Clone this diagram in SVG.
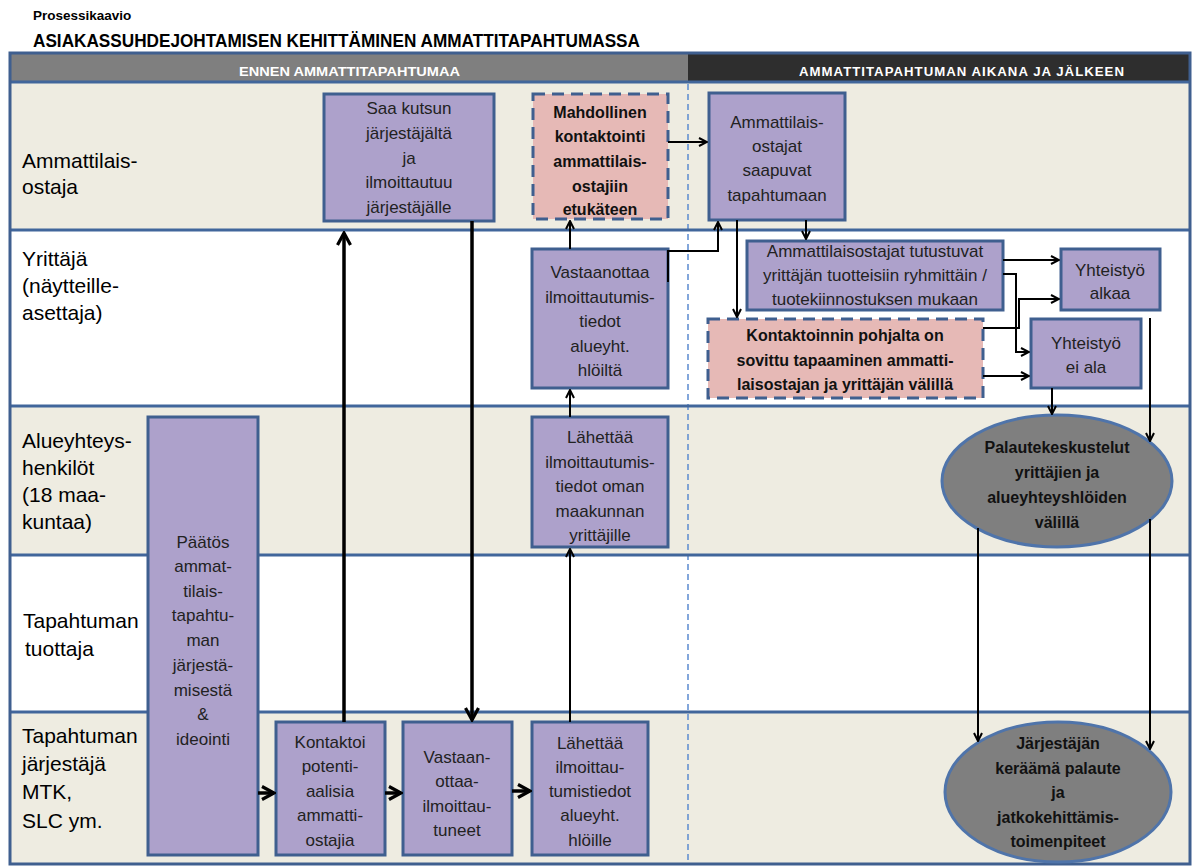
<svg xmlns="http://www.w3.org/2000/svg" width="1198" height="867" viewBox="0 0 1198 867">
<defs>
<style>
.ttl{font-family:"Liberation Sans",Arial,sans-serif;font-weight:bold;fill:#000}
.hdr{font-family:"Liberation Sans",Arial,sans-serif;font-weight:bold;font-size:13px;fill:#fff}
.ll{font-family:"Liberation Sans",Arial,sans-serif;font-size:21px;fill:#000}
.nt{font-family:"Liberation Sans",Arial,sans-serif;font-size:17px;fill:#222;text-anchor:middle}
.bt{font-family:"Liberation Sans",Arial,sans-serif;font-size:16px;font-weight:bold;fill:#111;text-anchor:middle}
.box{fill:#ADA1CB;stroke:#3F5F8F;stroke-width:3}
.pink{fill:#E6B9B6;stroke:#3F5F8F;stroke-width:3;stroke-dasharray:12 7}
.ell{fill:#7F7F7F;stroke:#4F74AA;stroke-width:3}
.lane{stroke:#41669B;stroke-width:3}
.c{fill:none;stroke:#000;stroke-width:2}
.ck{fill:none;stroke:#000;stroke-width:3.5}
</style>
<marker id="a" viewBox="0 0 10 10" markerWidth="10" markerHeight="10" refX="9" refY="5" orient="auto" markerUnits="userSpaceOnUse">
<path d="M1,1 L9,5 L1,9" fill="none" stroke="#000" stroke-width="2"/>
</marker>
<marker id="A" viewBox="0 0 16 16" markerWidth="16" markerHeight="16" refX="14" refY="8" orient="auto" markerUnits="userSpaceOnUse">
<path d="M2,1.5 L14,8 L2,14.5" fill="none" stroke="#000" stroke-width="3.2"/>
</marker>
</defs>
<rect width="1198" height="867" fill="#fff"/>
<g id="title">
<text class="ttl" x="33" y="20" font-size="13.5">Prosessikaavio</text>
<text class="ttl" x="33" y="47" font-size="18" textLength="607" lengthAdjust="spacingAndGlyphs">ASIAKASSUHDEJOHTAMISEN KEHITTÄMINEN AMMATTITAPAHTUMASSA</text>
</g>
<g id="lanes">
<rect x="10" y="82" width="1180" height="148" fill="#EEECE1"/>
<rect x="10" y="230" width="1180" height="176" fill="#fff"/>
<rect x="10" y="406" width="1180" height="149" fill="#EEECE1"/>
<rect x="10" y="555" width="1180" height="157" fill="#fff"/>
<rect x="10" y="712" width="1180" height="152" fill="#EEECE1"/>
<rect x="10" y="53" width="678" height="29" fill="#7F7F7F"/>
<rect x="688" y="53" width="502" height="29" fill="#2E2E2E"/>
<line x1="688" y1="84" x2="688" y2="864" stroke="#5B8BD0" stroke-width="1.5" stroke-dasharray="6 4"/>
<line class="lane" x1="10" y1="82" x2="1190" y2="82"/>
<line class="lane" x1="10" y1="230" x2="1190" y2="230"/>
<line class="lane" x1="10" y1="406" x2="1190" y2="406"/>
<line class="lane" x1="10" y1="555" x2="1190" y2="555"/>
<line class="lane" x1="10" y1="712" x2="1190" y2="712"/>
<rect x="10" y="53" width="1180" height="811" fill="none" stroke="#3F5F8F" stroke-width="3"/>
<text class="hdr" x="239" y="76" textLength="221" lengthAdjust="spacingAndGlyphs">ENNEN AMMATTITAPAHTUMAA</text>
<text class="hdr" x="799" y="76" textLength="326" lengthAdjust="spacingAndGlyphs" letter-spacing="1">AMMATTITAPAHTUMAN AIKANA JA JÄLKEEN</text>
<text class="ll" x="22" y="168">Ammattilais-</text>
<text class="ll" x="22" y="194">ostaja</text>
<text class="ll" x="22" y="266">Yrittäjä</text>
<text class="ll" x="22" y="293">(näytteille-</text>
<text class="ll" x="22" y="320">asettaja)</text>
<text class="ll" x="22" y="448">Alueyhteys-</text>
<text class="ll" x="22" y="475">henkilöt</text>
<text class="ll" x="22" y="502">(18 maa-</text>
<text class="ll" x="22" y="529">kuntaa)</text>
<text class="ll" x="23" y="628">Tapahtuman</text>
<text class="ll" x="25" y="656">tuottaja</text>
<text class="ll" x="22" y="743">Tapahtuman</text>
<text class="ll" x="22" y="771">järjestäjä</text>
<text class="ll" x="22" y="799">MTK,</text>
<text class="ll" x="22" y="828">SLC ym.</text>
</g>
<g id="n-saa">
<rect class="box" x="324" y="94" width="170" height="127"/>
<text class="nt" x="409" y="114">Saa kutsun</text>
<text class="nt" x="409" y="139">järjestäjältä</text>
<text class="nt" x="409" y="164">ja</text>
<text class="nt" x="409" y="188">ilmoittautuu</text>
<text class="nt" x="409" y="213">järjestäjälle</text>
</g>
<g id="n-mahd">
<rect class="pink" x="533" y="94" width="135" height="125"/>
<text class="bt" x="600" y="118">Mahdollinen</text>
<text class="bt" x="600" y="142">kontaktointi</text>
<text class="bt" x="600" y="167">ammattilais-</text>
<text class="bt" x="600" y="192">ostajiin</text>
<text class="bt" x="600" y="215">etukäteen</text>
</g>
<g id="n-saapuvat">
<rect class="box" x="709" y="93" width="136" height="127"/>
<text class="nt" x="777" y="128">Ammattilais-</text>
<text class="nt" x="777" y="152">ostajat</text>
<text class="nt" x="777" y="176">saapuvat</text>
<text class="nt" x="777" y="201">tapahtumaan</text>
</g>
<g id="n-vastaanottaa">
<rect class="box" x="532" y="249" width="136" height="139"/>
<text class="nt" x="600" y="278">Vastaanottaa</text>
<text class="nt" x="600" y="303">ilmoittautumis-</text>
<text class="nt" x="600" y="327">tiedot</text>
<text class="nt" x="600" y="352">alueyht.</text>
<text class="nt" x="600" y="376">hlöiltä</text>
</g>
<g id="n-tutustuvat">
<rect class="box" x="747" y="241" width="256" height="69"/>
<text class="nt" x="875" y="257">Ammattilaisostajat tutustuvat</text>
<text class="nt" x="875" y="281">yrittäjän tuotteisiin ryhmittäin /</text>
<text class="nt" x="875" y="305">tuotekiinnostuksen mukaan</text>
</g>
<g id="n-kontaktoinnin">
<rect class="pink" x="708" y="319" width="275" height="79"/>
<text class="bt" x="845" y="341">Kontaktoinnin pohjalta on</text>
<text class="bt" x="845" y="366">sovittu tapaaminen ammatti-</text>
<text class="bt" x="845" y="390">laisostajan ja yrittäjän välillä</text>
</g>
<g id="n-alkaa">
<rect class="box" x="1061" y="249" width="99" height="61"/>
<text class="nt" x="1110" y="276">Yhteistyö</text>
<text class="nt" x="1110" y="299">alkaa</text>
</g>
<g id="n-eiala">
<rect class="box" x="1031" y="319" width="110" height="69"/>
<text class="nt" x="1086" y="349">Yhteistyö</text>
<text class="nt" x="1086" y="373">ei ala</text>
</g>
<g id="n-lahettaa1">
<rect class="box" x="532" y="417" width="136" height="130"/>
<text class="nt" x="600" y="443">Lähettää</text>
<text class="nt" x="600" y="468">ilmoittautumis-</text>
<text class="nt" x="600" y="492">tiedot oman</text>
<text class="nt" x="600" y="517">maakunnan</text>
<text class="nt" x="600" y="541">yrittäjille</text>
</g>
<g id="n-paatos">
<rect class="box" x="148" y="417" width="110" height="438"/>
<text class="nt" x="203" y="548">Päätös</text>
<text class="nt" x="203" y="572">ammat-</text>
<text class="nt" x="203" y="597">tilais-</text>
<text class="nt" x="203" y="621">tapahtu-</text>
<text class="nt" x="203" y="646">man</text>
<text class="nt" x="203" y="671">järjestä-</text>
<text class="nt" x="203" y="696">misestä</text>
<text class="nt" x="203" y="720">&amp;</text>
<text class="nt" x="203" y="745">ideointi</text>
</g>
<g id="n-kontaktoi">
<rect class="box" x="276" y="722" width="109" height="133"/>
<text class="nt" x="330" y="748">Kontaktoi</text>
<text class="nt" x="330" y="772">potenti-</text>
<text class="nt" x="330" y="797">aalisia</text>
<text class="nt" x="330" y="821">ammatti-</text>
<text class="nt" x="330" y="846">ostajia</text>
</g>
<g id="n-vastaan">
<rect class="box" x="403" y="722" width="109" height="133"/>
<text class="nt" x="457" y="763">Vastaan-</text>
<text class="nt" x="457" y="787">ottaa-</text>
<text class="nt" x="457" y="812">ilmoittau-</text>
<text class="nt" x="457" y="836">tuneet</text>
</g>
<g id="n-lahettaa2">
<rect class="box" x="532" y="722" width="116" height="133"/>
<text class="nt" x="590" y="749">Lähettää</text>
<text class="nt" x="590" y="773">ilmoittau-</text>
<text class="nt" x="590" y="797">tumistiedot</text>
<text class="nt" x="590" y="821">alueyht.</text>
<text class="nt" x="590" y="846">hlöille</text>
</g>
<g id="n-palaute1">
<ellipse class="ell" cx="1057" cy="481" rx="115" ry="66"/>
<text class="bt" x="1057" y="453">Palautekeskustelut</text>
<text class="bt" x="1057" y="478">yrittäjien ja</text>
<text class="bt" x="1057" y="503">alueyhteyshlöiden</text>
<text class="bt" x="1057" y="528">välillä</text>
</g>
<g id="n-palaute2">
<ellipse class="ell" cx="1058" cy="792" rx="113" ry="70"/>
<text class="bt" x="1058" y="749">Järjestäjän</text>
<text class="bt" x="1058" y="774">keräämä palaute</text>
<text class="bt" x="1058" y="798">ja</text>
<text class="bt" x="1058" y="823">jatkokehittämis-</text>
<text class="bt" x="1058" y="847">toimenpiteet</text>
</g>
<g id="connectors">
<path class="ck" d="M258,793 H274" marker-end="url(#A)"/>
<path class="ck" d="M385,793 H401" marker-end="url(#A)"/>
<path class="ck" d="M512,791 H530" marker-end="url(#A)"/>
<path class="ck" d="M344,722 V233" marker-end="url(#A)"/>
<path class="ck" d="M472,221 V720" marker-end="url(#A)"/>
<path class="c" d="M570,722 V549" marker-end="url(#a)"/>
<path class="c" d="M570,417 V390" marker-end="url(#a)"/>
<path class="c" d="M570,249 V221" marker-end="url(#a)"/>
<path class="c" d="M668,142 H707" marker-end="url(#a)"/>
<path class="c" d="M668,282 V251 H718 V222" marker-end="url(#a)"/>
<path class="c" d="M737,220 V317" marker-end="url(#a)"/>
<path class="c" d="M806,220 V239" marker-end="url(#a)"/>
<path class="c" d="M1003,260 H1059" marker-end="url(#a)"/>
<path class="c" d="M1003,274 H1016 V352 H1029" marker-end="url(#a)"/>
<path class="c" d="M983,328 H1019 V299 H1059" marker-end="url(#a)"/>
<path class="c" d="M983,376 H1029" marker-end="url(#a)"/>
<path class="c" d="M1052,388 V414" marker-end="url(#a)"/>
<path class="c" d="M1150,318 V441" marker-end="url(#a)"/>
<path class="c" d="M978,528 V741" marker-end="url(#a)"/>
<path class="c" d="M1150,519 V749" marker-end="url(#a)"/>
</g>
</svg>
